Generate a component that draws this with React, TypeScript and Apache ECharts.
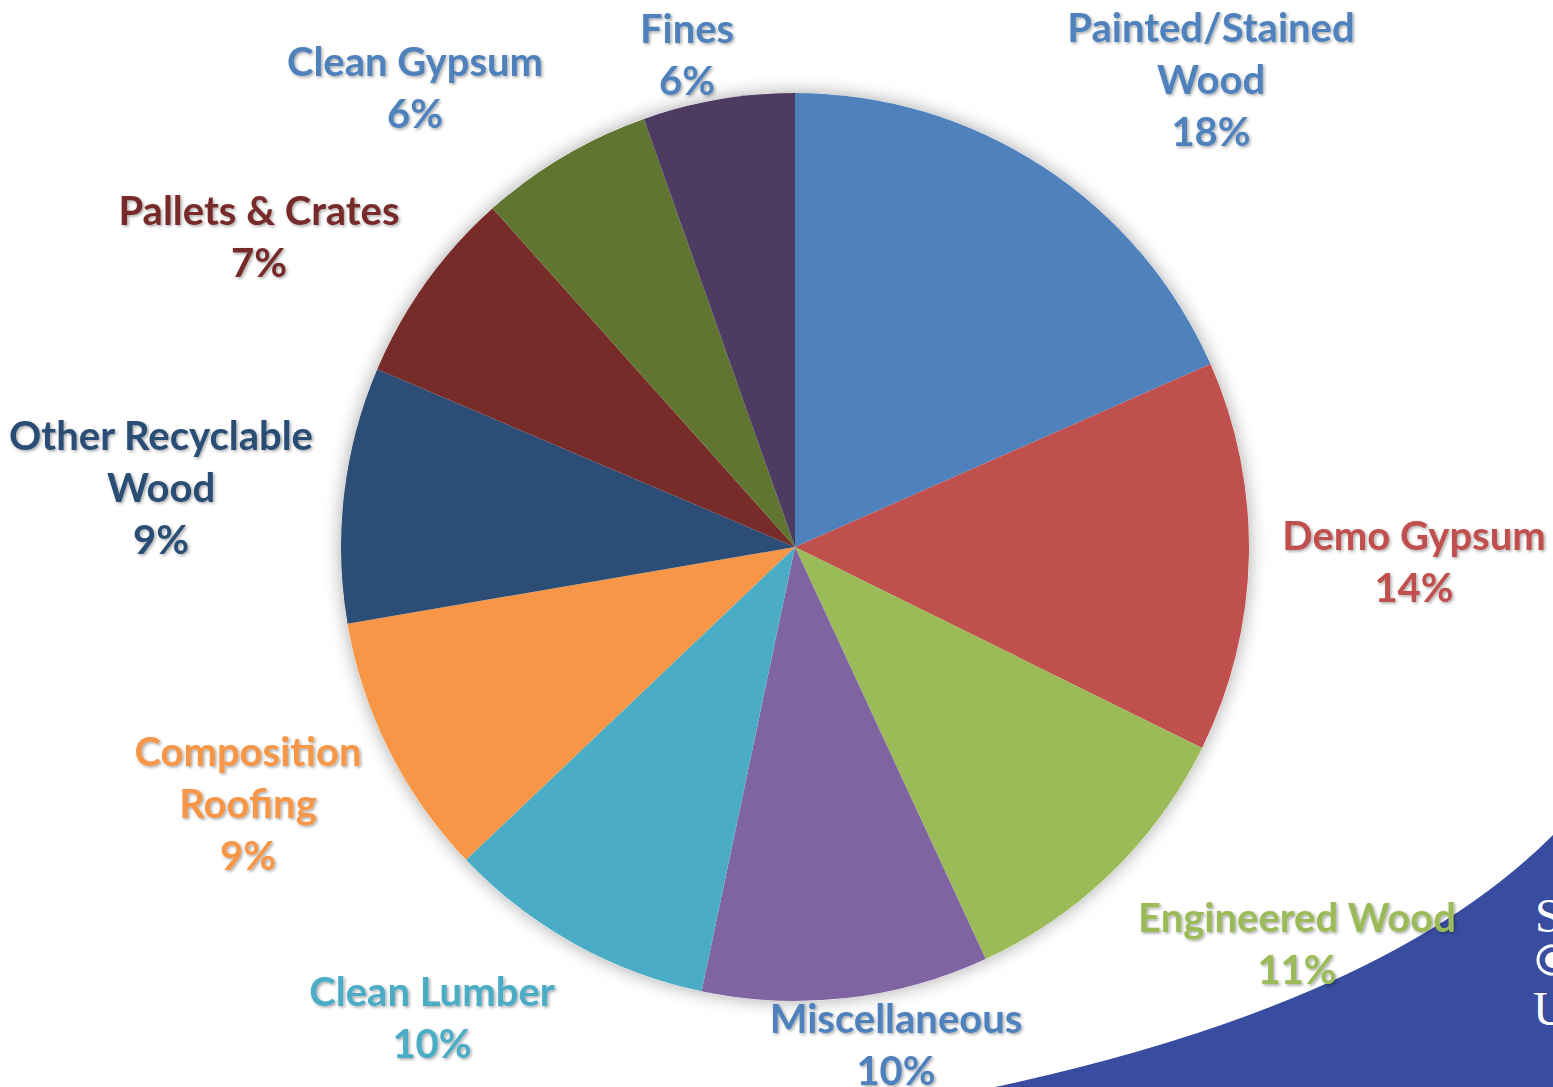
import React, { useEffect, useRef } from "react";
import * as echarts from "echarts";

const categories = [
  "Painted/Stained\nWood",
  "Demo Gypsum",
  "Engineered Wood",
  "Miscellaneous",
  "Clean Lumber",
  "Composition\nRoofing",
  "Other Recyclable\nWood",
  "Pallets & Crates",
  "Clean Gypsum",
  "Fines",
];
const values = [18.4, 13.9, 10.8, 10.2, 9.6, 9.4, 9.1, 7.0, 6.2, 5.4];
const percentLabels = ["18%", "14%", "11%", "10%", "10%", "9%", "9%", "7%", "6%", "6%"];

const sliceColors = [
  "#4F81BD", "#C0504D", "#9BBB59", "#8064A2", "#4BACC6",
  "#F79646", "#2C4D75", "#772C2A", "#5F7530", "#4D3B62",
];
const labelColors = [
  "#4F81BD", "#C0504D", "#9BBB59", "#4F81BD", "#4BACC6",
  "#F79646", "#2C4D75", "#772C2A", "#4F81BD", "#4F81BD",
];
// label centre offsets from pie centre (layout)
const labelOffsets = [
  [416, -468], [619, 14], [502, 396], [101, 497], [-363, 470],
  [-547, 256], [-634, -60], [-536, -311], [-380, -460], [-108, -493],
];

const CX = 795;
const CY = 547;
const R = 454;

export default function App() {
  const ref = useRef<HTMLDivElement>(null);
  useEffect(() => {
    if (!ref.current) return;
    echarts.graphic.registerShape(
      "swoosh",
      echarts.graphic.extendPath("M 995 1087 Q 1386 1003 1553 835 L 1553 1087 Z", {}) as any
    );
    const chart = echarts.init(ref.current, null, { renderer: "svg" });
    chart.setOption({
      animation: false,
      backgroundColor: "#ffffff",
      graphic: [
        {
          type: "swoosh",
          x: 0,
          y: 0,
          z: 0,
          style: { fill: "#384CA0" },
          silent: true,
        },
        {
          type: "text",
          x: 1535,
          y: 915,
          z: 1,
          style: {
            text: "S",
            fill: "#ffffff",
            font: "48px 'Liberation Serif', 'DejaVu Serif', serif",
            verticalAlign: "middle",
            align: "left",
          },
        },
        {
          type: "text",
          x: 1533,
          y: 1008,
          z: 1,
          style: {
            text: "U",
            fill: "#ffffff",
            font: "48px 'Liberation Serif', 'DejaVu Serif', serif",
            verticalAlign: "middle",
            align: "left",
          },
        },
        {
          type: "circle",
          z: 1,
          shape: { cx: 1552, cy: 960, r: 14 },
          style: { fill: "none", stroke: "#ffffff", lineWidth: 3 },
        },
        {
          type: "circle",
          z: 1,
          shape: { cx: 1553, cy: 960, r: 8 },
          style: { fill: "#ffffff" },
        },
      ],
      series: [
        {
          type: "pie",
          z: 1,
          silent: true,
          center: [CX, CY],
          radius: R,
          label: { show: false },
          labelLine: { show: false },
          itemStyle: {
            color: "#ffffff",
            shadowBlur: 18,
            shadowColor: "rgba(0,0,0,0.35)",
          },
          data: [{ value: 1, name: "" }],
        },
        {
          type: "pie",
          z: 3,
          center: [CX, CY],
          radius: R,
          startAngle: 90,
          clockwise: true,
          avoidLabelOverlap: false,
          itemStyle: { borderWidth: 0 },
          labelLine: { show: false },
          label: {
            show: true,
            position: "outside",
            fontFamily: "Lato, 'Open Sans', sans-serif",
            fontWeight: "bold",
            fontSize: 40,
            lineHeight: 52,
            align: "center",
            textShadowColor: "rgba(0,0,0,0.35)",
            textShadowBlur: 3,
            textShadowOffsetX: 1.5,
            textShadowOffsetY: 1.5,
            formatter: (p: any) => `${p.name}\n${percentLabels[p.dataIndex]}`,
          },
          labelLayout: (p: any) => ({
            x: CX + labelOffsets[p.dataIndex][0],
            y: CY + labelOffsets[p.dataIndex][1],
            align: "center",
            verticalAlign: "middle",
          }),
          data: categories.map((name, i) => ({
            name,
            value: values[i],
            itemStyle: { color: sliceColors[i] },
            label: { color: labelColors[i] },
          })),
        },
      ],
    });
    return () => chart.dispose();
  }, []);
  return (
    <div
      ref={ref}
      style={{ position: "absolute", left: 0, top: 0, width: 1553, height: 1087 }}
    />
  );
}
